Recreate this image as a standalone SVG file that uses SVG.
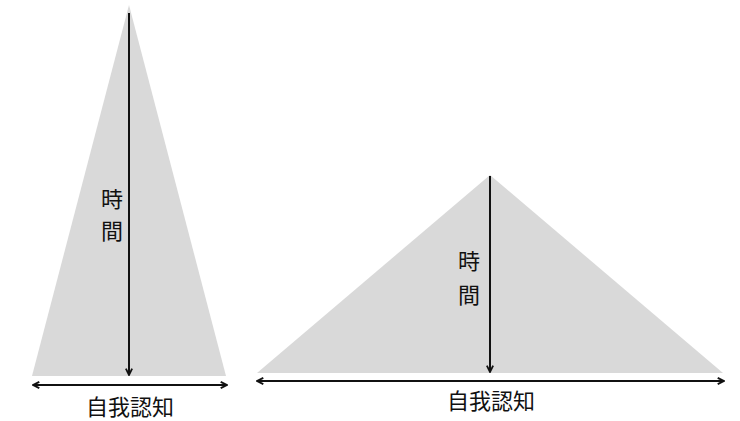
<svg xmlns="http://www.w3.org/2000/svg" width="740" height="421" viewBox="0 0 740 421">
<style>
.tri{fill:#d9d9d9;stroke:none}
.ln{stroke:#111;stroke-width:2;fill:none}
.t{font-family:"Noto Sans CJK JP","Noto Sans CJK TC",sans-serif;font-size:22px;fill:#111}
</style>
<defs>
<marker id="ah" viewBox="0 0 10 10" refX="9" refY="5" markerWidth="9" markerHeight="9" orient="auto-start-reverse" markerUnits="userSpaceOnUse">
<path d="M2,1.5 L9,5 L2,8.5" fill="none" stroke="#111" stroke-width="2"/>
</marker>
</defs>
<rect width="740" height="421" fill="#fff"/>
<g id="left-triangle">
<polygon class="tri" points="129,5 32,376 226,376"/>
<text class="t" x="112" y="207" text-anchor="middle">時</text>
<text class="t" x="112" y="239" text-anchor="middle">間</text>
<text class="t" x="130" y="415" text-anchor="middle">自我認知</text>
</g>
<g id="right-triangle">
<polygon class="tri" points="490,175 257,373 723,373"/>
<text class="t" x="469" y="269" text-anchor="middle">時</text>
<text class="t" x="469" y="303" text-anchor="middle">間</text>
<text class="t" x="491" y="409" text-anchor="middle">自我認知</text>
</g>
<g id="connectors">
<line class="ln" x1="129" y1="13" x2="129" y2="375" marker-end="url(#ah)"/>
<line class="ln" x1="33" y1="385" x2="227" y2="385" marker-start="url(#ah)" marker-end="url(#ah)"/>
<line class="ln" x1="490" y1="176" x2="490" y2="372" marker-end="url(#ah)"/>
<line class="ln" x1="257" y1="381" x2="724" y2="381" marker-start="url(#ah)" marker-end="url(#ah)"/>
</g>
</svg>
